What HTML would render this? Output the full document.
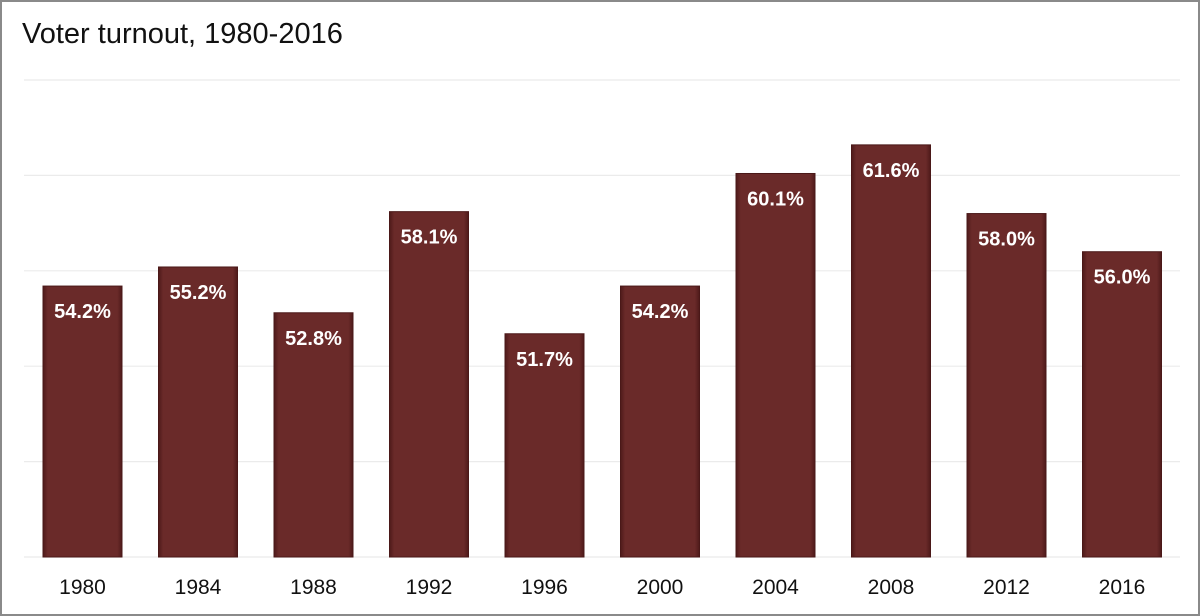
<!DOCTYPE html>
<html><head><meta charset="utf-8"><style>
html,body{margin:0;padding:0;background:#fff;}
#wrap{position:relative;width:1200px;height:616px;box-sizing:border-box;border:2px solid #8a8a8a;background:#fff;overflow:hidden;}
svg{position:absolute;left:0;top:0;}
</style></head><body>
<div id="wrap">
<svg id="chart" width="1200" height="616">
<defs>
<linearGradient id="barg" x1="0" x2="1" y1="0" y2="0">
<stop offset="0" stop-color="#4e1a1a"/><stop offset="0.06" stop-color="#6a2a29"/>
<stop offset="0.94" stop-color="#6a2a29"/><stop offset="1" stop-color="#4e1a1a"/>
</linearGradient>
</defs>
<text x="20" y="41" font-family="Liberation Sans, sans-serif" font-size="29" fill="#111">Voter turnout, 1980-2016</text>
<g id="grid"></g><g id="bars"></g><g id="labels"></g>
</svg>
</div>
<script>
const categories = ["1980","1984","1988","1992","1996","2000","2004","2008","2012","2016"];
const values = [54.2,55.2,52.8,58.1,51.7,54.2,60.1,61.6,58.0,56.0];
const valueLabels = ["54.2%","55.2%","52.8%","58.1%","51.7%","54.2%","60.1%","61.6%","58.0%","56.0%"];
const gridTicks = [40,45,50,55,60,65];
const yMin=40,yMax=65,yBase=555,yTop=78;
const xLeft=22.75,band=115.5,barW=79;
function y(v){return yBase-(v-yMin)/(yMax-yMin)*(yBase-yTop);}
function xc(i){return xLeft+band*(i+0.5);}
const NS="http://www.w3.org/2000/svg";
const grid=document.getElementById('grid'),bars=document.getElementById('bars'),labels=document.getElementById('labels');
gridTicks.forEach(t=>{
  const l=document.createElementNS(NS,'line');
  
  
  l.setAttribute('x1',22);l.setAttribute('x2',1178);
  l.setAttribute('y1',y(t));l.setAttribute('y2',y(t));
  l.setAttribute('stroke','#ebebeb');l.setAttribute('stroke-width','1.2');
  grid.appendChild(l);
});
values.forEach((v,i)=>{
  const r=document.createElementNS(NS,'rect');
  
  
  r.setAttribute('x',xc(i)-barW/2);r.setAttribute('y',y(v));
  r.setAttribute('width',barW);r.setAttribute('height',yBase-y(v));
  r.setAttribute('fill','url(#barg)');r.setAttribute('stroke','#4a1818');r.setAttribute('stroke-width','1');
  bars.appendChild(r);
  const t=document.createElementNS(NS,'text');
  
  
  t.setAttribute('x',xc(i));t.setAttribute('y',y(v)+32);
  t.setAttribute('text-anchor','middle');t.setAttribute('fill','#fff');
  t.setAttribute('font-family','Liberation Sans, sans-serif');t.setAttribute('font-weight','bold');t.setAttribute('font-size','20');
  t.textContent=valueLabels[i];
  labels.appendChild(t);
  const c=document.createElementNS(NS,'text');
  
  
  c.setAttribute('x',xc(i));c.setAttribute('y',592);
  c.setAttribute('text-anchor','middle');c.setAttribute('fill','#111');
  c.setAttribute('font-family','Liberation Sans, sans-serif');c.setAttribute('font-size','21');
  c.textContent=categories[i];
  labels.appendChild(c);
});
</script>
</body></html>
